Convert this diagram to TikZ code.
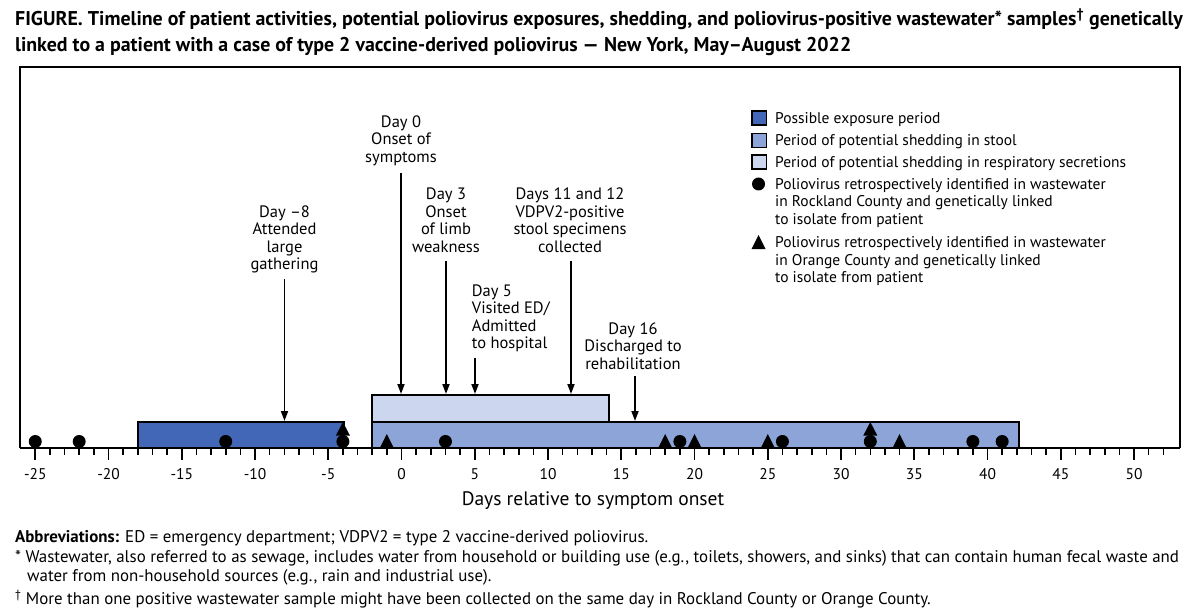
\documentclass[tikz,border=0pt]{standalone}
\usepackage{fontspec}
\setmainfont{PT Sans}
\usetikzlibrary{arrows.meta}
\definecolor{expo}{RGB}{66,103,183}
\definecolor{stool}{RGB}{140,164,216}
\definecolor{resp}{RGB}{204,214,238}
\begin{document}
\begin{tikzpicture}[x=1pt,y=-1pt,
  lbl/.style={font=\fontsize{15.5}{17.5}\selectfont, align=center, inner sep=0pt},
  evt/.style={font=\fontsize{16.5}{17.5}\selectfont, align=center, inner sep=0pt},
  leg/.style={font=\fontsize{15.5}{17.5}\selectfont, align=left, inner sep=0pt, anchor=west},
  note/.style={font=\fontsize{16.9}{19}\selectfont, align=left, inner sep=0pt, anchor=west},
  ttl/.style={font=\bfseries\fontsize{19.9}{25.5}\selectfont, align=left, inner sep=0pt, anchor=west},
  arr/.style={line width=1.8pt, -{Triangle[length=10pt,width=7pt]}},
  bar/.style={draw=black, line width=2pt},
  dot/.style={fill=black},
  tick/.style={line width=1.6pt}]
\useasboundingbox (0,0) rectangle (1200,615);
\fill[white] (0,0) rectangle (1200,615);

% title
\node[ttl] (title) at (15,32) {FIGURE. Timeline of patient activities, potential poliovirus exposures, shedding, and poliovirus-positive wastewater* samples\textsuperscript{†} genetically\\linked to a patient with a case of type 2 vaccine-derived poliovirus — New York, May–August 2022};

% frame
\draw[line width=2.5pt] (20,448) -- (20,67) -- (1180,67) -- (1180,448);

% bars
\draw[bar, fill=expo] (137.8,421.7) rectangle (343.5,448);
\draw[bar, fill=stool] (372.2,421.7) rectangle (1018.8,448);
\draw[bar, fill=resp] (372.2,395) rectangle (609,421.7);

% axis
\draw[line width=2pt] (20,448) -- (1180,448);
\foreach \d in {-25,...,52}{
  \pgfmathtruncatemacro{\m}{mod(abs(\d),5)}
  \ifnum\m=0
    \draw[tick] ({401.5+14.65*\d},448) -- ++(0,12);
  \else
    \draw[tick] ({401.5+14.65*\d},448) -- ++(0,7);
  \fi
}
\foreach \d in {-25,-20,...,50}{
  \node[lbl] (t\d) at ({401.5+14.65*\d},474) {\d};
}
\node[lbl, font=\fontsize{19.5}{21}\selectfont] (axt) at (593,501) {Days relative to symptom onset};

% markers: circles (Rockland)
\foreach \d in {-25,-22,-12,-4,3,19,26,32,39,41}{
  \fill[dot] ({401.5+14.65*\d},441.5) circle (6.5);
}
% triangles (Orange) on axis
\foreach \d in {-1,18,20,25,34}{
  \fill[dot] ({401.5+14.65*\d-7},448) -- ({401.5+14.65*\d+7},448) -- ({401.5+14.65*\d},434) -- cycle;
}
% stacked triangles
\foreach \d in {-4,32}{
  \fill[dot] ({401.5+14.65*\d-7},435.5) -- ({401.5+14.65*\d+7},435.5) -- ({401.5+14.65*\d},422) -- cycle;
}

% event labels
\node[evt] (e8) at (284.5,239.4) {Day –8\\Attended\\large\\gathering};
\node[evt] (e0) at (401,140.7) {Day 0\\Onset of\\symptoms};
\node[evt] (e3) at (446,220.3) {Day 3\\Onset\\of limb\\weakness};
\node[evt] (e11) at (570,220.3) {Days 11 and 12\\VDPV2-positive\\stool specimens\\collected};
\node[evt, align=left, anchor=west] (e5) at (471.7,318.5) {Day 5\\Visited ED/\\Admitted\\to hospital};
\node[evt] (e16) at (633,346) {Day 16\\Discharged to\\rehabilitation};

\coordinate (a8s) at (284.5,279);   \coordinate (a8e) at (284.5,421);
\coordinate (a0s) at (401,172.7);   \coordinate (a0e) at (401,394);
\coordinate (a3s) at (446,260.7);   \coordinate (a3e) at (446,394);
\coordinate (a11s) at (571,260.7);  \coordinate (a11e) at (571,394);
\coordinate (a5s) at (475,357.7);   \coordinate (a5e) at (475,394);
\coordinate (a16s) at (635,376);    \coordinate (a16e) at (635,421);
\draw[arr] (a8s) -- (a8e);
\draw[arr] (a0s) -- (a0e);
\draw[arr] (a3s) -- (a3e);
\draw[arr] (a11s) -- (a11e);
\draw[arr] (a5s) -- (a5e);
\draw[arr] (a16s) -- (a16e);

% legend
\draw[line width=1.8pt, fill=expo] (752,111) rectangle (766.5,125);
\draw[line width=1.8pt, fill=stool] (752,133.5) rectangle (766.5,147.5);
\draw[line width=1.8pt, fill=resp] (752,155) rectangle (766.5,169);
\fill[dot] (758.5,184) circle (6.5);
\fill[dot] (751.5,249) -- (765.5,249) -- (758.5,235) -- cycle;
\node[leg] (l1) at (775,119.5) {Possible exposure period};
\node[leg] (l2) at (775,141.5) {Period of potential shedding in stool};
\node[leg] (l3) at (775,163.5) {Period of potential shedding in respiratory secretions};
\node[leg] (l4) at (775,203) {Poliovirus retrospectively identified in wastewater\\in Rockland County and genetically linked\\to isolate from patient};
\node[leg] (l5) at (775,261.5) {Poliovirus retrospectively identified in wastewater\\in Orange County and genetically linked\\to isolate from patient};

% footnotes
\node[note] (n1) at (15,538.5) {\textbf{Abbreviations:} ED = emergency department; VDPV2 = type 2 vaccine-derived poliovirus.};
\node[note] (n2) at (15,558.5) {* Wastewater, also referred to as sewage, includes water from household or building use (e.g., toilets, showers, and sinks) that can contain human fecal waste and};
\node[note] (n3) at (27,577.5) {water from non-household sources (e.g., rain and industrial use).};
\node[note] (n4) at (15,599.5) {\textsuperscript{†} More than one positive wastewater sample might have been collected on the same day in Rockland County or Orange County.};
\end{tikzpicture}
\end{document}
